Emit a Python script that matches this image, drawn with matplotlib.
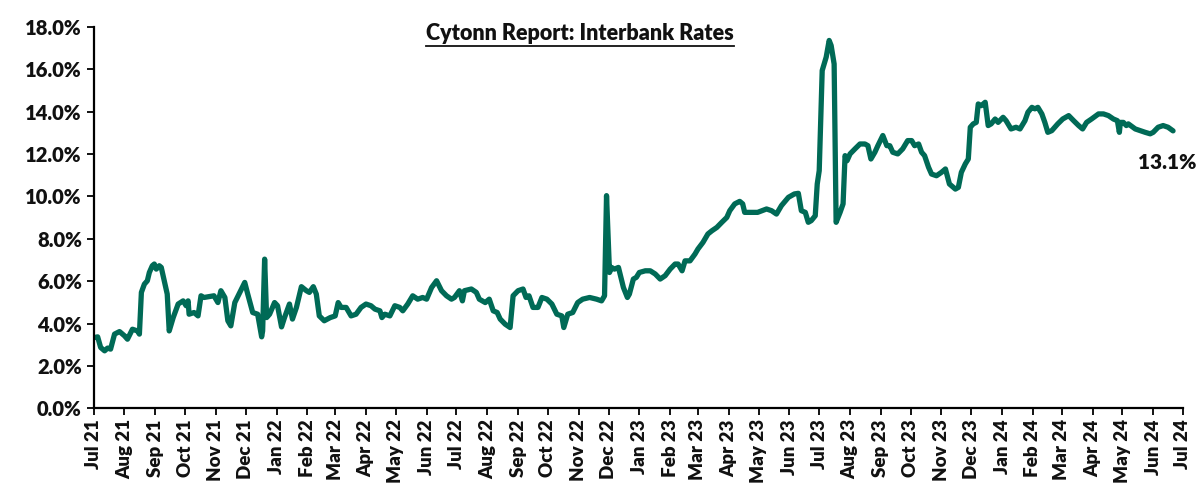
import matplotlib
matplotlib.use('Agg')
import matplotlib.pyplot as plt
import matplotlib.dates as mdates
import matplotlib.ticker as mticker
from matplotlib.lines import Line2D
import pandas as pd

# interbank rate (%), Jul 2021 - Jun 2024
dates = [
    '2021-07-02', '2021-07-05', '2021-07-08', '2021-07-12', '2021-07-15', '2021-07-18', '2021-07-22', '2021-07-27',
    '2021-08-01', '2021-08-04', '2021-08-09', '2021-08-14', '2021-08-16', '2021-08-18', '2021-08-21', '2021-08-24',
    '2021-08-26', '2021-08-29', '2021-08-31', '2021-09-02', '2021-09-05', '2021-09-07', '2021-09-13', '2021-09-15',
    '2021-09-19', '2021-09-24', '2021-09-29', '2021-10-02', '2021-10-04', '2021-10-05', '2021-10-10', '2021-10-14',
    '2021-10-17', '2021-10-20', '2021-10-30', '2021-11-03', '2021-11-06', '2021-11-10', '2021-11-13', '2021-11-16',
    '2021-11-20', '2021-11-25', '2021-11-30', '2021-12-03', '2021-12-08', '2021-12-13', '2021-12-17', '2021-12-18',
    '2021-12-20', '2021-12-22', '2021-12-25', '2021-12-30', '2022-01-02', '2022-01-06', '2022-01-09', '2022-01-14',
    '2022-01-17', '2022-01-21', '2022-01-26', '2022-01-31', '2022-02-03', '2022-02-07', '2022-02-10', '2022-02-13',
    '2022-02-18', '2022-02-24', '2022-03-01', '2022-03-04', '2022-03-07', '2022-03-12', '2022-03-17', '2022-03-22',
    '2022-03-27', '2022-04-01', '2022-04-06', '2022-04-10', '2022-04-15', '2022-04-17', '2022-04-20', '2022-04-25',
    '2022-04-30', '2022-05-05', '2022-05-08', '2022-05-13', '2022-05-18', '2022-05-23', '2022-05-28', '2022-06-01',
    '2022-06-06', '2022-06-11', '2022-06-16', '2022-06-21', '2022-06-26', '2022-06-29', '2022-07-04', '2022-07-07',
    '2022-07-09', '2022-07-16', '2022-07-21', '2022-07-24', '2022-07-30', '2022-08-03', '2022-08-07', '2022-08-11',
    '2022-08-14', '2022-08-19', '2022-08-24', '2022-08-27', '2022-09-01', '2022-09-06', '2022-09-09', '2022-09-12',
    '2022-09-16', '2022-09-21', '2022-09-25', '2022-09-30', '2022-10-05', '2022-10-10', '2022-10-15', '2022-10-17',
    '2022-10-21', '2022-10-26', '2022-10-31', '2022-11-05', '2022-11-12', '2022-11-19', '2022-11-24', '2022-11-27',
    '2022-11-29', '2022-12-02', '2022-12-04', '2022-12-07', '2022-12-11', '2022-12-16', '2022-12-20', '2022-12-22',
    '2022-12-26', '2022-12-29', '2023-01-01', '2023-01-07', '2023-01-12', '2023-01-17', '2023-01-22', '2023-01-27',
    '2023-02-01', '2023-02-06', '2023-02-09', '2023-02-13', '2023-02-16', '2023-02-21', '2023-02-26', '2023-03-01',
    '2023-03-06', '2023-03-11', '2023-03-15', '2023-03-20', '2023-03-25', '2023-03-30', '2023-04-02', '2023-04-07',
    '2023-04-12', '2023-04-15', '2023-04-17', '2023-04-22', '2023-04-30', '2023-05-09', '2023-05-14', '2023-05-19',
    '2023-05-24', '2023-05-31', '2023-06-06', '2023-06-10', '2023-06-13', '2023-06-17', '2023-06-20', '2023-06-23',
    '2023-06-27', '2023-06-29', '2023-07-01', '2023-07-04', '2023-07-08', '2023-07-11', '2023-07-13', '2023-07-16',
    '2023-07-18', '2023-07-22', '2023-07-25', '2023-07-27', '2023-07-29', '2023-08-01', '2023-08-06', '2023-08-11',
    '2023-08-16', '2023-08-19', '2023-08-22', '2023-08-26', '2023-08-29', '2023-09-03', '2023-09-07', '2023-09-10',
    '2023-09-13', '2023-09-18', '2023-09-23', '2023-09-28', '2023-10-02', '2023-10-05', '2023-10-09', '2023-10-12',
    '2023-10-15', '2023-10-19', '2023-10-22', '2023-10-27', '2023-11-01', '2023-11-05', '2023-11-09', '2023-11-15',
    '2023-11-18', '2023-11-21', '2023-11-25', '2023-11-28', '2023-11-30', '2023-12-03', '2023-12-06', '2023-12-08',
    '2023-12-11', '2023-12-15', '2023-12-18', '2023-12-21', '2023-12-25', '2023-12-28', '2024-01-02', '2024-01-05',
    '2024-01-10', '2024-01-15', '2024-01-19', '2024-01-24', '2024-01-27', '2024-01-31', '2024-02-03', '2024-02-06',
    '2024-02-10', '2024-02-13', '2024-02-16', '2024-02-20', '2024-02-26', '2024-03-02', '2024-03-08', '2024-03-13',
    '2024-03-18', '2024-03-22', '2024-03-26', '2024-03-31', '2024-04-07', '2024-04-12', '2024-04-17', '2024-04-22',
    '2024-04-26', '2024-04-28', '2024-04-29', '2024-05-02', '2024-05-05', '2024-05-07', '2024-05-14', '2024-05-19',
    '2024-05-24', '2024-05-29', '2024-06-01', '2024-06-06', '2024-06-11', '2024-06-16', '2024-06-21',
]
rates = [
    3.34, 3.37, 2.87, 2.71, 2.84, 2.79, 3.50, 3.62,
    3.42, 3.26, 3.73, 3.65, 3.50, 5.47, 5.86, 6.02,
    6.41, 6.73, 6.81, 6.57, 6.73, 6.65, 5.39, 3.65,
    4.28, 4.92, 5.07, 4.84, 5.07, 4.44, 4.52, 4.36,
    5.31, 5.23, 5.31, 4.99, 5.55, 5.23, 4.13, 3.89,
    4.99, 5.47, 5.94, 5.39, 4.52, 4.44, 3.37, 3.65,
    7.04, 4.28, 4.44, 4.99, 4.84, 3.84, 4.28, 4.92,
    4.21, 4.76, 5.74, 5.55, 5.47, 5.74, 5.39, 4.36,
    4.13, 4.28, 4.36, 4.99, 4.76, 4.76, 4.36, 4.44,
    4.76, 4.92, 4.84, 4.68, 4.60, 4.28, 4.44, 4.36,
    4.84, 4.76, 4.60, 4.92, 5.31, 5.15, 5.23, 5.15,
    5.70, 6.02, 5.55, 5.31, 5.15, 5.23, 5.55, 5.07,
    5.55, 5.63, 5.47, 5.15, 4.99, 5.15, 4.60, 4.52,
    4.21, 3.97, 3.81, 5.31, 5.55, 5.63, 5.23, 5.31,
    4.76, 4.76, 5.23, 5.15, 4.92, 4.44, 4.36, 3.81,
    4.44, 4.52, 4.99, 5.15, 5.23, 5.15, 5.07, 5.31,
    10.04, 6.41, 6.65, 6.57, 6.65, 5.70, 5.23, 5.39,
    6.10, 6.18, 6.41, 6.49, 6.49, 6.34, 6.10, 6.26,
    6.57, 6.81, 6.81, 6.49, 6.96, 6.96, 7.28, 7.52,
    7.83, 8.23, 8.38, 8.54, 8.78, 9.01, 9.33, 9.65,
    9.77, 9.65, 9.25, 9.25, 9.25, 9.41, 9.33, 9.17,
    9.57, 9.96, 10.12, 10.15, 9.33, 9.25, 8.78, 8.86,
    9.09, 10.59, 11.22, 15.95, 16.58, 17.37, 17.13, 16.26,
    8.78, 9.25, 9.65, 11.93, 11.69, 12.01, 12.25, 12.48,
    12.48, 12.40, 11.77, 12.09, 12.40, 12.88, 12.40, 12.40,
    12.09, 12.01, 12.25, 12.64, 12.64, 12.40, 12.48, 12.09,
    11.93, 11.38, 11.06, 10.98, 11.14, 11.30, 10.59, 10.35,
    10.43, 11.14, 11.54, 11.77, 13.27, 13.43, 13.50, 14.37,
    14.29, 14.45, 13.35, 13.43, 13.66, 13.50, 13.74, 13.58,
    13.19, 13.27, 13.19, 13.58, 13.98, 14.21, 14.14, 14.21,
    13.90, 13.50, 13.03, 13.11, 13.43, 13.66, 13.82, 13.58,
    13.35, 13.19, 13.50, 13.66, 13.90, 13.90, 13.82, 13.66,
    13.58, 13.03, 13.50, 13.50, 13.35, 13.43, 13.19, 13.11,
    13.03, 12.96, 13.03, 13.27, 13.35, 13.27, 13.10,
]

plt.rcParams['font.family'] = ['Lato', 'DejaVu Sans']
plt.rcParams['font.weight'] = 'heavy'

x = pd.to_datetime(dates)
green = '#006A56'
ink = '#111111'

fig = plt.figure(figsize=(12.01, 4.93), dpi=100)
ax = fig.add_axes([0.078, 0.172, 0.907, 0.773])

ax.plot(x, rates, color=green, linewidth=3.8, solid_joinstyle='round', solid_capstyle='round')

ax.set_xlim(pd.Timestamp('2021-07-01'), pd.Timestamp('2024-07-01'))
ax.set_ylim(0, 18)
ax.yaxis.set_major_locator(mticker.MultipleLocator(2))
ax.yaxis.set_major_formatter(mticker.FuncFormatter(lambda v, p: '{:.1f}%'.format(v)))
ax.xaxis.set_major_locator(mdates.MonthLocator())
ax.xaxis.set_major_formatter(mdates.DateFormatter('%b %y'))

for s in ['top', 'right']:
    ax.spines[s].set_visible(False)
for s in ['left', 'bottom']:
    ax.spines[s].set_linewidth(1.6)
    ax.spines[s].set_color('black')

ax.tick_params(axis='y', direction='out', length=5, width=1.3, colors='black', labelsize=14.5)
ax.tick_params(axis='x', direction='out', length=5, width=1.3, colors='black', labelsize=13.5,
               labelrotation=90, pad=3)
for lab in ax.get_xticklabels() + ax.get_yticklabels():
    lab.set_fontweight('heavy')
    lab.set_color(ink)

# label on the latest value
ax.annotate('{:.1f}%'.format(rates[-1]), xy=(x[-1], rates[-1]), xytext=(-4, -23),
            textcoords='offset points', ha='center', va='center',
            fontsize=15, fontweight='heavy', color=ink)

title = fig.text(0.483, 0.932, 'Cytonn Report: Interbank Rates', ha='center', va='center',
                 fontsize=15.5, fontweight='heavy', color=ink)

# underline the title
fig.canvas.draw()
bb = title.get_window_extent().transformed(fig.transFigure.inverted())
fig.add_artist(Line2D([bb.x0, bb.x1], [bb.y0 - 0.004, bb.y0 - 0.004],
                      transform=fig.transFigure, color=ink, linewidth=1.3))

fig.savefig('out.png', dpi=100)
